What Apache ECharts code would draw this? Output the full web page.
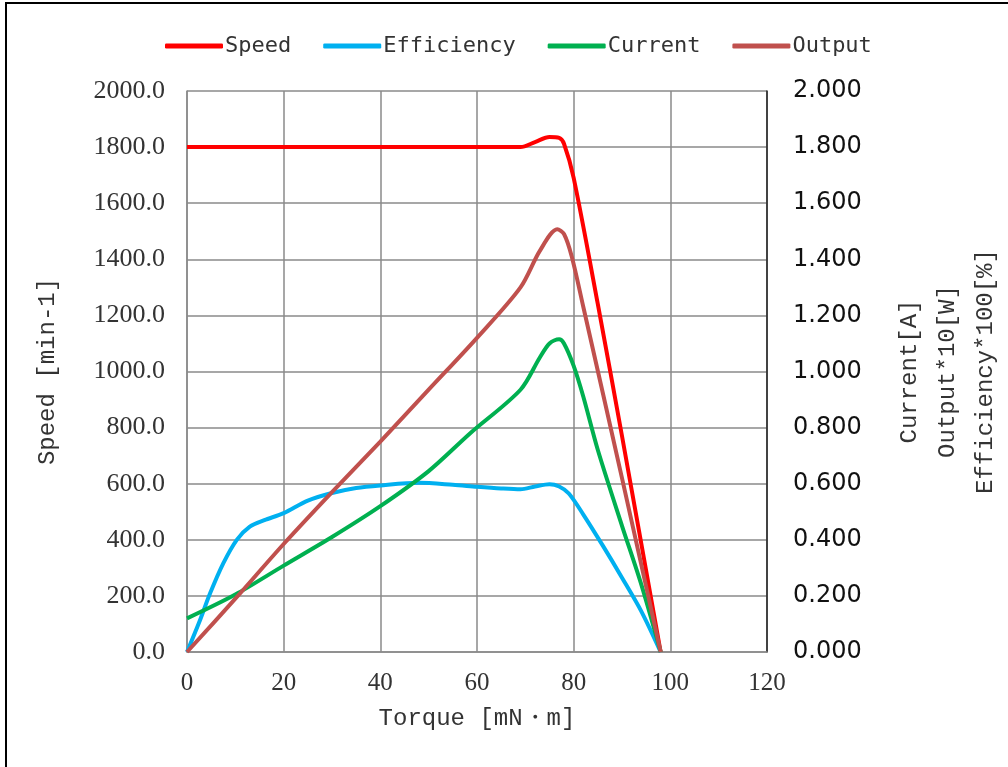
<!DOCTYPE html>
<html>
<head>
<meta charset="utf-8">
<script src="https://cdn.jsdelivr.net/npm/echarts@6/dist/echarts.min.js"></script>
<style>
    html, body { margin: 0; padding: 0; background: #fff; overflow: hidden; }
    #chart { width: 1008px; height: 767px; }
</style>
</head>
<body>
<div id="chart"></div>
<script>
// torque [mN・m] / value pairs for each curve
const speedT = [0, 20, 40, 60, 69, 72, 75, 77, 78, 80, 85, 90, 98]
const speedV = [1800, 1800, 1800, 1800, 1800, 1818, 1836, 1833, 1812, 1690, 1240, 770, 0]

const effT = [0, 2.5, 4.8, 7.5, 10.3, 13, 16, 20, 25, 30, 35, 40, 48, 55, 60, 65, 69, 72, 75, 77, 79, 82, 86, 90, 94, 98]
const effV = [0, 0.105, 0.21, 0.316, 0.40, 0.447, 0.47, 0.495, 0.54, 0.567, 0.585, 0.594, 0.603, 0.596, 0.589, 0.583, 0.58, 0.59, 0.598, 0.59, 0.565, 0.49, 0.38, 0.265, 0.145, 0]

const curT = [0, 10, 20, 30, 40, 50, 58.6, 69, 73, 75, 77, 78, 80, 82, 85, 90, 94, 98]
const curV = [0.12, 0.205, 0.308, 0.41, 0.52, 0.645, 0.78, 0.935, 1.05, 1.10, 1.115, 1.10, 1.02, 0.91, 0.72, 0.45, 0.24, 0]

const outT = [0, 10, 20, 30, 40, 50, 60, 69, 73, 76.6, 78, 79.6, 82, 90, 98]
const outV = [0, 0.19, 0.385, 0.57, 0.75, 0.935, 1.12, 1.30, 1.43, 1.507, 1.49, 1.41, 1.23, 0.62, 0]

const seriesNames = ['Speed', 'Efficiency', 'Current', 'Output']
const colors = ['#ff0000', '#00b0f0', '#00b050', '#c0504d']

const zip = (xs, ys) => xs.map((x, i) => [x, ys[i]])

const monoFont = '"DejaVu Sans Mono", "Noto Sans CJK JP", monospace'
const nameFont = '"Liberation Mono", "DejaVu Sans Mono", monospace'
const serifFont = '"Liberation Serif", "DejaVu Serif", serif'

const chart = echarts.init(document.getElementById('chart'))

const lineSeries = (name, data, yAxisIndex, color) => ({
    name: name,
    type: 'line',
    data: data,
    yAxisIndex: yAxisIndex,
    smooth: 0.3,
    showSymbol: false,
    symbol: 'none',
    lineStyle: { color: color, width: 4 },
    itemStyle: { color: color }
})

const option = {
    animation: false,
    backgroundColor: '#fff',
    color: colors,
    graphic: [
        {
            type: 'rect',
            shape: { x: 6, y: 3, width: 1020, height: 780 },
            style: { fill: 'none', stroke: '#000', lineWidth: 2 },
            silent: true
        }
    ],
    legend: {
        data: seriesNames,
        left: 160,
        top: 30,
        icon: 'roundRect',
        itemWidth: 58,
        itemHeight: 5,
        itemGap: 32,
        textStyle: { fontFamily: monoFont, fontSize: 22, color: '#333', padding: [0, 0, 0, -3] }
    },
    grid: {
        left: 187,
        right: 241,
        top: 91,
        bottom: 115,
        outerBoundsMode: 'none'
    },
    xAxis: {
        type: 'value',
        min: 0,
        max: 120,
        interval: 20,
        name: 'Torque [mN・m]',
        nameLocation: 'middle',
        nameGap: 55,
        nameTextStyle: { fontFamily: nameFont, fontSize: 24, color: '#333' },
        axisLine: { show: true, lineStyle: { color: '#8a8a8a', width: 1.5 } },
        axisTick: { show: false },
        axisLabel: { fontFamily: serifFont, fontSize: 25, color: '#333', margin: 19 },
        splitLine: { show: true, lineStyle: { color: '#8a8a8a', width: 1.5 } }
    },
    yAxis: [
        {
            type: 'value',
            min: 0,
            max: 2000,
            interval: 200,
            name: 'Speed [min-1]',
            nameLocation: 'middle',
            nameGap: 127,
            nameTextStyle: { fontFamily: nameFont, fontSize: 24, color: '#333' },
            axisLine: { show: true, lineStyle: { color: '#8a8a8a', width: 1.5 } },
            axisTick: { show: false },
            axisLabel: {
                fontFamily: serifFont, fontSize: 26, color: '#333', margin: 22,
                formatter: v => v.toFixed(1)
            },
            splitLine: { show: true, lineStyle: { color: '#8a8a8a', width: 1.5 } }
        },
        {
            type: 'value',
            min: 0,
            max: 2,
            interval: 0.2,
            position: 'right',
            name: 'Current[A]\nOutput*10[W]\nEfficiency*100[%]',
            nameLocation: 'middle',
            nameRotate: 90,
            nameGap: 124,
            nameTextStyle: { fontFamily: nameFont, fontSize: 24, color: '#333', lineHeight: 38 },
            axisLine: { show: true, lineStyle: { color: '#222', width: 1.5 } },
            axisTick: { show: false },
            axisLabel: {
                fontFamily: '"DejaVu Sans", sans-serif', fontSize: 24, color: '#111', margin: 26,
                formatter: v => v.toFixed(3)
            },
            splitLine: { show: false }
        }
    ],
    series: [
        lineSeries('Speed', zip(speedT, speedV), 0, colors[0]),
        lineSeries('Efficiency', zip(effT, effV), 1, colors[1]),
        lineSeries('Current', zip(curT, curV), 1, colors[2]),
        lineSeries('Output', zip(outT, outV), 1, colors[3])
    ]
}

chart.setOption(option)
</script>
</body>
</html>
